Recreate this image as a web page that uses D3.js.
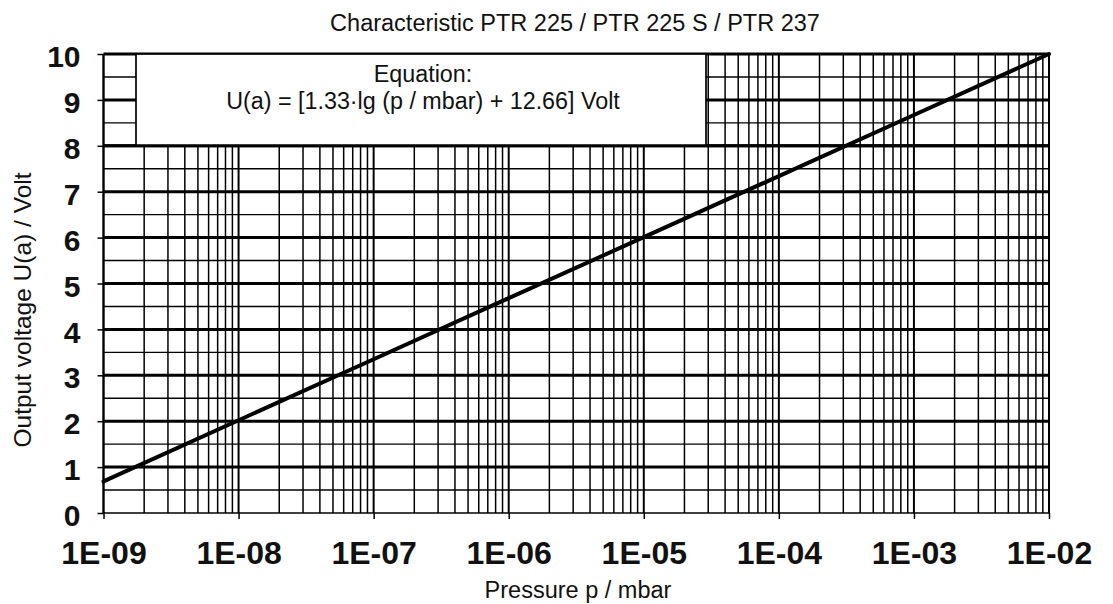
<!DOCTYPE html>
<html>
<head>
<meta charset="utf-8">
<script src="https://cdn.jsdelivr.net/npm/d3@7/dist/d3.min.js"></script>
<style>
  html, body { margin: 0; padding: 0; background: #fff; }
  svg { display: block; font-family: "Liberation Sans", Arial, sans-serif; }
</style>
</head>
<body>
<svg id="chart" width="1113" height="604"></svg>
<script>
// ---- Data ----
const title = "Characteristic PTR 225 / PTR 225 S / PTR 237";
const xAxisTitle = "Pressure p / mbar";
const yAxisTitle = "Output voltage U(a) / Volt";
const equationLines = ["Equation:", "U(a) = [1.33\u00B7lg (p / mbar) + 12.66] Volt"];

const pressureDecades = [1e-9, 1e-8, 1e-7, 1e-6, 1e-5, 1e-4, 1e-3, 1e-2];
const pressureTickLabels = ["1E-09", "1E-08", "1E-07", "1E-06", "1E-05", "1E-04", "1E-03", "1E-02"];
const minorMultipliers = [2, 3, 4, 5, 6, 7, 8, 9];
const voltTicks = [0, 1, 2, 3, 4, 5, 6, 7, 8, 9, 10];
const voltHalfTicks = [0.5, 1.5, 2.5, 3.5, 4.5, 5.5, 6.5, 7.5, 8.5, 9.5];

// characteristic curve: pressure (mbar) vs output voltage (V)
const curvePressure = [1e-9, 1e-8, 1e-7, 1e-6, 1e-5, 1e-4, 1e-3, 1e-2];
const curveVoltage = [0.69, 2.02, 3.35, 4.68, 6.01, 7.34, 8.67, 10.0];

// ---- Layout ----
const svg = d3.select("#chart");
const mLeft = 103.5, mRight = 1049, mTop = 54, mBottom = 513;

const x = d3.scaleLog().domain([1e-9, 1e-2]).range([mLeft, mRight]);
const y = d3.scaleLinear().domain([0, 10]).range([mBottom, mTop]);

const g = svg.append("g");

// vertical grid lines
const minorX = [];
pressureDecades.slice(0, -1).forEach(d => minorMultipliers.forEach(m => minorX.push(d * m)));
g.selectAll("line.vminor").data(minorX).join("line")
  .attr("x1", d => x(d)).attr("x2", d => x(d))
  .attr("y1", y(0)).attr("y2", y(10))
  .attr("stroke", "#000").attr("stroke-width", 1.5);
g.selectAll("line.vmajor").data(pressureDecades).join("line")
  .attr("x1", d => x(d)).attr("x2", d => x(d))
  .attr("y1", y(0)).attr("y2", y(10))
  .attr("stroke", "#000").attr("stroke-width", 2);

// half-volt lines (thin)
g.selectAll("line.hhalf").data(voltHalfTicks).join("line")
  .attr("x1", mLeft).attr("x2", mRight)
  .attr("y1", d => y(d)).attr("y2", d => y(d))
  .attr("stroke", "#000").attr("stroke-width", 1.4);

// integer volt lines (thick)
g.selectAll("line.hint").data(voltTicks).join("line")
  .attr("x1", mLeft).attr("x2", mRight)
  .attr("y1", d => y(d)).attr("y2", d => y(d))
  .attr("stroke", "#000").attr("stroke-width", d => d === 0 ? 1.5 : 3);

// equation box (covers grid)
g.append("rect")
  .attr("x", 136).attr("y", y(10))
  .attr("width", 706 - 136).attr("height", y(8) - y(10))
  .attr("fill", "#fff").attr("stroke", "#000").attr("stroke-width", 1.7);
// redraw the 8 V line on top of the box edge
g.append("line")
  .attr("x1", mLeft).attr("x2", mRight)
  .attr("y1", y(8)).attr("y2", y(8))
  .attr("stroke", "#000").attr("stroke-width", 3);

// equation text
g.selectAll("text.eq").data(equationLines).join("text")
  .attr("x", 423).attr("y", (d, i) => i === 0 ? 82 : 109)
  .attr("text-anchor", "middle")
  .attr("font-size", 23.3).attr("fill", "#111")
  .text(d => d);

// axes
const xAxis = d3.axisBottom(x)
  .tickValues(pressureDecades)
  .tickFormat((d, i) => pressureTickLabels[i])
  .tickSize(6).tickPadding(22);
const gx = svg.append("g").attr("transform", `translate(0,${mBottom})`).call(xAxis);
gx.select(".domain").remove();
gx.selectAll(".tick line").attr("stroke", "#000").attr("stroke-width", 1.5);
gx.selectAll(".tick text")
  .attr("font-family", "Liberation Sans, Arial, sans-serif")
  .attr("font-size", 32).attr("font-weight", "bold").attr("fill", "#111");

const yAxis = d3.axisLeft(y)
  .tickValues(voltTicks)
  .tickFormat(d3.format("d"))
  .tickSize(6).tickPadding(17);
const gy = svg.append("g").attr("transform", `translate(${mLeft},0)`).call(yAxis);
gy.select(".domain").attr("stroke", "#000").attr("stroke-width", 1.8)
  .attr("d", `M0,${mBottom}V${mTop}`);
gy.selectAll(".tick line").attr("stroke", "#000").attr("stroke-width", 1.5);
gy.selectAll(".tick text")
  .attr("font-family", "Liberation Sans, Arial, sans-serif")
  .attr("font-size", 30).attr("font-weight", "bold").attr("fill", "#111")
  .attr("dy", "0.42em");

// right border
svg.append("line")
  .attr("x1", mRight).attr("x2", mRight).attr("y1", y(0)).attr("y2", y(10))
  .attr("stroke", "#000").attr("stroke-width", 2);

// characteristic curve
const line = d3.line()
  .x((d, i) => x(curvePressure[i]))
  .y(d => y(d));
svg.append("path")
  .datum(curveVoltage)
  .attr("d", line)
  .attr("fill", "none").attr("stroke", "#000").attr("stroke-width", 4)
  .attr("stroke-linecap", "round");

// titles
svg.append("text")
  .attr("x", 575).attr("y", 31).attr("text-anchor", "middle")
  .attr("font-size", 23.5).attr("fill", "#111").text(title);
svg.append("text")
  .attr("x", 578).attr("y", 598).attr("text-anchor", "middle")
  .attr("font-size", 23.5).attr("fill", "#111").text(xAxisTitle);
svg.append("text")
  .attr("transform", "translate(31,310) rotate(-90)")
  .attr("text-anchor", "middle")
  .attr("font-size", 24.5).attr("fill", "#111").text(yAxisTitle);
</script>
</body>
</html>
